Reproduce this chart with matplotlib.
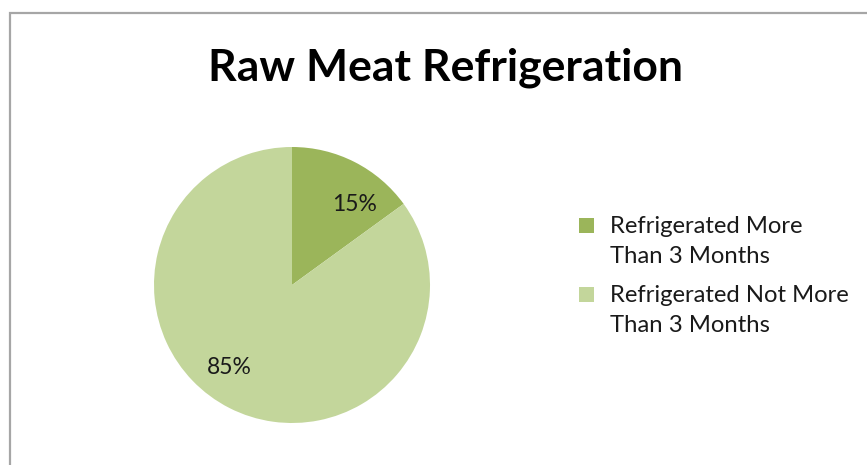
import matplotlib
matplotlib.use("Agg")
import matplotlib.pyplot as plt
from matplotlib.patches import Rectangle

plt.rcParams['font.family'] = ['Lato', 'DejaVu Sans']

title = "Raw Meat Refrigeration"
categories = ["Refrigerated More\nThan 3 Months", "Refrigerated Not More\nThan 3 Months"]
shares = [15, 85]
colors = ["#9bb55a", "#c3d69b"]

W, H = 867, 465
fig = plt.figure(figsize=(W / 100, H / 100), dpi=100)
fig.patch.set_facecolor("white")


def fx(px):
    return px / W


def fy(py):
    return 1 - py / H


# chart frame (runs off the right and bottom edges)
fig.add_artist(Rectangle((fx(9.5), -0.05), 1.1, fy(13.5) + 0.05,
                         transform=fig.transFigure, fill=False,
                         edgecolor="#a6a6a6", linewidth=1.6))

fig.text(fx(445), fy(80), title, ha="center", va="baseline",
         fontsize=32, fontweight="bold", color="#000000")

cx, cy, r = 292, 285, 138
ax = fig.add_axes([fx(cx - r), fy(cy + r), 2 * r / W, 2 * r / H])
wedges, texts, autotexts = ax.pie(
    shares, colors=colors, startangle=90, counterclock=False,
    autopct=lambda p: f"{p:.0f}%", radius=1,
    wedgeprops=dict(linewidth=0),
    textprops=dict(fontsize=16.5, color="#1a1a1a"))
# percentage labels placed best-fit inside their slices
label_pos = [(0.455, 0.58), (-0.455, -0.595)]
for t, (x, y) in zip(autotexts, label_pos):
    t.set_position((x, y))
ax.set_xlim(-1, 1)
ax.set_ylim(-1, 1)
ax.set_aspect("equal")
ax.axis("off")

# legend: square marker beside the first line of each two-line entry
entry_top = [218, 287]
line_gap = 29.5
for label, color, top in zip(categories, colors, entry_top):
    fig.add_artist(Rectangle((fx(579), fy(top + 15)), 15 / W, 15 / H,
                             transform=fig.transFigure, facecolor=color,
                             edgecolor="none"))
    for k, line in enumerate(label.split("\n")):
        fig.text(fx(610), fy(top + 15 + k * line_gap), line,
                 ha="left", va="baseline", fontsize=17.2, color="#1a1a1a")

fig.savefig("out.png", dpi=100, facecolor="white")
